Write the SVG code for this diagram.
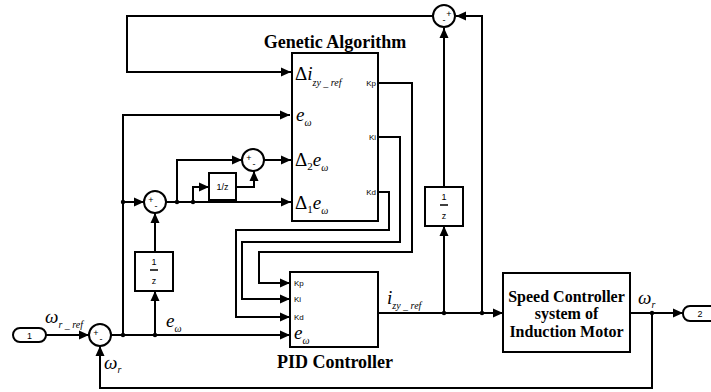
<svg xmlns="http://www.w3.org/2000/svg" width="711" height="392" viewBox="0 0 711 392">
<defs>
<marker id="ah" markerUnits="userSpaceOnUse" markerWidth="11" markerHeight="10" refX="10" refY="5" orient="auto">
<path d="M0,0.5 L10,5 L0,9.5 z" fill="#000"/>
</marker>
<style>
.w{fill:none;stroke:#000;stroke-width:2;marker-end:url(#ah)}
.wn{fill:none;stroke:#000;stroke-width:2}
.blk{fill:#fff;stroke:#000;stroke-width:2}
.dot{fill:#000}
.ttl{font-family:"Liberation Serif","Times New Roman",serif;font-weight:bold;font-size:18px;fill:#000}
.stt{font-family:"Liberation Serif","Times New Roman",serif;font-weight:bold;font-size:16px;fill:#000}
.m{font-family:"Liberation Serif",serif;font-style:italic;font-size:19px;fill:#000}
.ms{font-family:"Liberation Serif",serif;font-style:italic;font-size:10px;fill:#000}
.ns{font-family:"Liberation Serif",serif;font-style:normal;font-size:11px;fill:#000}
.g{font-family:"Liberation Serif",serif;font-size:19px;fill:#000}
.p{font-family:"Liberation Sans",sans-serif;font-size:8px;fill:#000}
.sg{font-family:"Liberation Sans",sans-serif;font-size:9px;fill:#000;text-anchor:middle}
</style>
</defs>
<rect width="711" height="392" fill="#fff"/>
<g id="connectors">
<path class="w" d="M46,335 H89"/>
<path class="w" d="M111,335 H290"/>
<path class="w" d="M123,335 V115 H290"/>
<path class="w" d="M123,202 H144"/>
<path class="w" d="M155,335 V291"/>
<path class="w" d="M155,252 V213"/>
<path class="w" d="M166,202 H291"/>
<path class="w" d="M177,202 V160 H242"/>
<path class="w" d="M193,202 V187 H209"/>
<path class="w" d="M236,187 H254 V171"/>
<path class="w" d="M264,160 H291"/>
<path class="w" d="M433,16 H127 V72 H291"/>
<path class="w" d="M378,83 H412 V252 H259 V283 H290"/>
<path class="w" d="M378,137 H400 V242 H242 V299 H290"/>
<path class="w" d="M378,192 H389 V230 H236 V317 H290"/>
<path class="w" d="M378,313 H503"/>
<path class="w" d="M444,313 V226"/>
<path class="w" d="M444,187 V28"/>
<path class="w" d="M482,313 V16 H456"/>
<path class="w" d="M630,313 H683"/>
<path class="w" d="M652,313 V388 H100 V346"/>
<circle class="dot" cx="123" cy="335" r="2.2"/>
<circle class="dot" cx="155" cy="335" r="2.2"/>
<circle class="dot" cx="123" cy="202" r="2.2"/>
<circle class="dot" cx="177" cy="202" r="2.2"/>
<circle class="dot" cx="193" cy="202" r="2.2"/>
<circle class="dot" cx="444" cy="313" r="2.2"/>
<circle class="dot" cx="482" cy="313" r="2.2"/>
<circle class="dot" cx="652" cy="313" r="2.2"/>
<text class="m" x="45" y="323">ω<tspan class="ms" dy="5">r _ ref</tspan></text>
<text class="m" x="166" y="327">e<tspan class="ms" dy="5">ω</tspan></text>
<text class="m" x="104" y="369">ω<tspan class="ms" dy="4">r</tspan></text>
<text class="m" x="387" y="304">i<tspan class="ms" dy="5">zy _ ref</tspan></text>
<text class="m" x="638" y="304">ω<tspan class="ms" dy="4">r</tspan></text>
</g>
<g id="in1">
<rect class="blk" x="13" y="328" width="33" height="14" rx="7"/>
<text class="sg" x="29.5" y="338.5">1</text>
</g>
<g id="sum1">
<circle class="blk" cx="100" cy="335" r="11"/>
<text class="sg" x="96" y="336" font-size="8">+</text>
<text class="sg" x="101" y="342">-</text>
</g>
<g id="sum2">
<circle class="blk" cx="155" cy="202" r="11"/>
<text class="sg" x="151" y="203" font-size="8">+</text>
<text class="sg" x="156" y="209">-</text>
</g>
<g id="sum3">
<circle class="blk" cx="253" cy="160" r="11"/>
<text class="sg" x="249" y="161" font-size="8">+</text>
<text class="sg" x="254" y="167">-</text>
</g>
<g id="sum4">
<circle class="blk" cx="444" cy="16" r="11"/>
<text class="sg" x="449" y="17" font-size="8">+</text>
<text class="sg" x="444" y="23">-</text>
</g>
<g id="delay1">
<rect class="blk" x="135" y="252" width="38" height="39"/>
<text class="sg" x="154" y="265">1</text>
<line x1="150" y1="270" x2="158" y2="270" stroke="#000" stroke-width="1.5"/>
<text class="sg" x="154" y="284">z</text>
</g>
<g id="delay2">
<rect class="blk" x="209" y="173" width="27" height="27"/>
<text class="sg" x="222.5" y="190">1/z</text>
</g>
<g id="delay3">
<rect class="blk" x="425" y="187" width="38" height="39"/>
<text class="sg" x="444" y="200">1</text>
<line x1="440" y1="205" x2="448" y2="205" stroke="#000" stroke-width="1.5"/>
<text class="sg" x="444" y="219">z</text>
</g>
<g id="ga">
<text class="ttl" x="335" y="48" text-anchor="middle">Genetic Algorithm</text>
<rect class="blk" x="292" y="53" width="86" height="168"/>
<text class="g" x="295" y="80">Δ<tspan class="m">i</tspan><tspan class="ms" dy="6">zy _ ref</tspan></text>
<text class="m" x="296" y="121">e<tspan class="ms" dy="5">ω</tspan></text>
<text class="g" x="295" y="166">Δ<tspan class="ns" dy="4">2</tspan><tspan class="m" dy="-4">e</tspan><tspan class="ms" dy="5">ω</tspan></text>
<text class="g" x="295" y="209">Δ<tspan class="ns" dy="4">1</tspan><tspan class="m" dy="-4">e</tspan><tspan class="ms" dy="5">ω</tspan></text>
<text class="p" x="376" y="86" text-anchor="end">Kp</text>
<text class="p" x="376" y="140" text-anchor="end">Ki</text>
<text class="p" x="376" y="195" text-anchor="end">Kd</text>
</g>
<g id="pid">
<rect class="blk" x="290" y="272" width="88" height="75"/>
<text class="p" x="294" y="286">Kp</text>
<text class="p" x="294" y="302">Ki</text>
<text class="p" x="294" y="320">Kd</text>
<text class="m" x="294" y="339">e<tspan class="ms" dy="5">ω</tspan></text>
<text class="ttl" x="335" y="368" text-anchor="middle">PID Controller</text>
</g>
<g id="motor">
<rect class="blk" x="503" y="273" width="127" height="79"/>
<text class="stt" x="566.5" y="302" text-anchor="middle">Speed Controller</text>
<text class="stt" x="566.5" y="319" text-anchor="middle">system of</text>
<text class="stt" x="566.5" y="337" text-anchor="middle">Induction Motor</text>
</g>
<g id="out2">
<rect class="blk" x="683" y="306" width="40" height="15" rx="7"/>
<text class="sg" x="700" y="317">2</text>
</g>
</svg>
